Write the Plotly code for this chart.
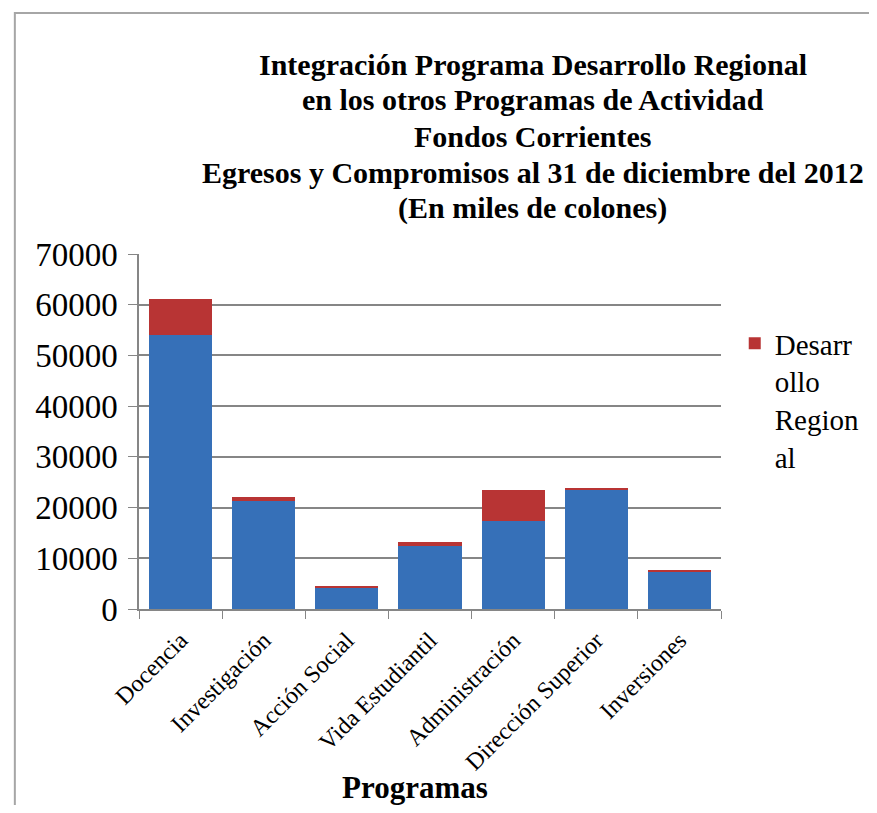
import plotly.graph_objects as go

categorias = ["Docencia", "Investigación", "Acción Social", "Vida Estudiantil",
              "Administración", "Dirección Superior", "Inversiones"]
programa_base = [54000, 21200, 4200, 12500, 17300, 23600, 7250]
desarrollo_regional = [7100, 800, 400, 700, 6200, 250, 400]
y_ticks = [0, 10000, 20000, 30000, 40000, 50000, 60000, 70000]
titulo = ["Integración Programa Desarrollo Regional",
          "en los otros Programas de Actividad",
          "Fondos Corrientes",
          "Egresos y Compromisos al 31 de diciembre del 2012",
          "(En miles de colones)"]

FONT = "Liberation Serif, Times New Roman, serif"
OFF = 8  # page body margin
W, H = 877 - OFF, 813 - 2 * OFF
L, R, T, B = 139 - OFF, 145, 254 - OFF, 204 - OFF
pw, ph = W - L - R, H - T - B

def px_x(x):
    return (x - OFF - L) / pw

def px_y(y):
    return (H - B - (y - OFF)) / ph

fig = go.Figure()
fig.add_trace(go.Bar(x=categorias, y=programa_base, name="Programa",
                     marker=dict(color="#3670B8", line=dict(width=0)),
                     showlegend=False))
fig.add_trace(go.Bar(x=categorias, y=desarrollo_regional,
                     name="Desarr<br>ollo<br>Region<br>al",
                     marker=dict(color="#B83434", line=dict(width=0))))

title_lines_y = [64, 100, 136, 172, 208]
annotations = [
    dict(text="<b>%s</b>" % line, xref="paper", yref="paper",
         x=px_x(540), y=px_y(yy), xanchor="center", yanchor="middle",
         showarrow=False, font=dict(family=FONT, size=30, color="black"))
    for line, yy in zip(titulo, title_lines_y)
]
annotations.append(dict(
    text="<b>Programas</b>", xref="paper", yref="paper",
    x=px_x(420), y=px_y(787), xanchor="center", yanchor="middle",
    showarrow=False, font=dict(family=FONT, size=31, color="black"),
))

fig.update_layout(
    barmode="stack",
    bargap=0.24,
    width=W, height=H, autosize=False,
    margin=dict(l=L, r=R, t=T, b=B),
    paper_bgcolor="white", plot_bgcolor="white",
    font=dict(family=FONT, color="black"),
    legend=dict(
        x=px_x(746), xanchor="left", y=px_y(318), yanchor="top",
        font=dict(family=FONT, size=29, color="black"),
        valign="top", itemwidth=30, bgcolor="rgba(0,0,0,0)",
    ),
    xaxis=dict(
        tickangle=-45, tickfont=dict(family=FONT, size=24, color="black"),
        showline=True, linecolor="#868686", linewidth=1.5,
        ticks="outside", tickson="boundaries", ticklen=8, tickcolor="#868686",
        showgrid=False, ticklabelstandoff=6,
    ),
    yaxis=dict(
        range=[0, 70000], tickvals=y_ticks, ticktext=[str(v) for v in y_ticks],
        tickfont=dict(family=FONT, size=33, color="black"),
        showline=True, linecolor="#868686", linewidth=1.5,
        ticks="outside", ticklen=9, tickcolor="#868686",
        showgrid=True, gridcolor="#868686", gridwidth=1.5,
        zeroline=False, ticklabelstandoff=4,
    ),
    annotations=annotations,
    shapes=[dict(
        type="rect", xref="paper", yref="paper", layer="below",
        x0=px_x(12.5), x1=px_x(900), y0=px_y(840), y1=px_y(13),
        line=dict(color="#A6A6A6", width=2), fillcolor="rgba(0,0,0,0)",
    )],
)

fig.write_html("out.html")
